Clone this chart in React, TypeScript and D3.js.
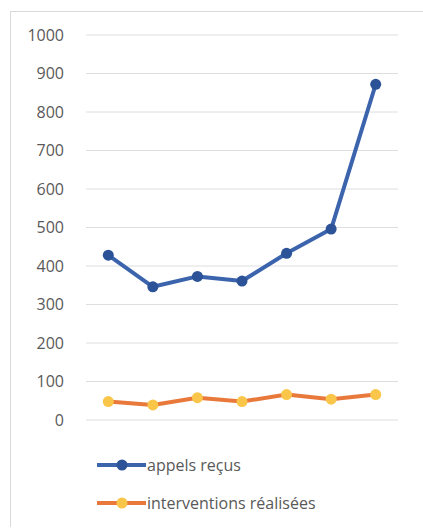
import React from 'react';
import * as d3 from 'd3';

const categories = ['1', '2', '3', '4', '5', '6', '7'];
const appelsRecus = [428, 346, 373, 361, 433, 496, 872];
const interventions = [48, 39, 58, 48, 66, 54, 66];
const yTicks = [0, 100, 200, 300, 400, 500, 600, 700, 800, 900, 1000];
const seriesNames = ['appels reçus', 'interventions réalisées'];

const W = 423, H = 529;
const left = 86, right = 398, top = 35, bottom = 420;
const font = "'Open Sans', 'Noto Sans', sans-serif";

const series = [
  { name: seriesNames[0], values: appelsRecus, line: '#3b64ad', dot: '#2c5297' },
  { name: seriesNames[1], values: interventions, line: '#e8793b', dot: '#fac64a' },
];

export default function App() {
  const x = d3.scaleBand().domain(categories).range([left, right]);
  const y = d3.scaleLinear().domain([0, 1000]).range([bottom, top]);
  const cx = (c: string) => (x(c) as number) + x.bandwidth() / 2;

  const line = d3.line<number>()
    .x((d, i) => cx(categories[i]))
    .y(d => y(d));

  return (
    <svg width={W} height={H} style={{ position: 'absolute', left: 0, top: 0, background: '#fff' }}>
      <line x1={10} x2={W} y1={11.5} y2={11.5} stroke="#d9d9d9" />
      <line x1={10.5} x2={10.5} y1={11} y2={H - 2} stroke="#d9d9d9" />

      {yTicks.map(t => (
        <g key={t}>
          <line x1={left} x2={right} y1={y(t)} y2={y(t)} stroke="#dedede" strokeWidth={1} />
          <text x={64} y={y(t)} dy="0.35em" textAnchor="end" fontFamily={font} fontSize={16} fill="#595959">{t}</text>
        </g>
      ))}

      {series.map(s => (
        <g key={s.name}>
          <path d={line(s.values) || ''} fill="none" stroke={s.line} strokeWidth={4} strokeLinejoin="round" />
          {s.values.map((v, i) => (
            <circle key={i} cx={cx(categories[i])} cy={y(v)} r={5.5} fill={s.dot} />
          ))}
        </g>
      ))}

      {series.map((s, i) => {
        const ly = 465 + i * 38;
        return (
          <g key={'lg' + s.name}>
            <line x1={97} x2={146} y1={ly} y2={ly} stroke={s.line} strokeWidth={4} />
            <circle cx={122} cy={ly} r={5.5} fill={s.dot} />
            <text x={147} y={ly} dy="0.35em" fontFamily={font} fontSize={16} fill="#595959">{s.name}</text>
          </g>
        );
      })}
    </svg>
  );
}
